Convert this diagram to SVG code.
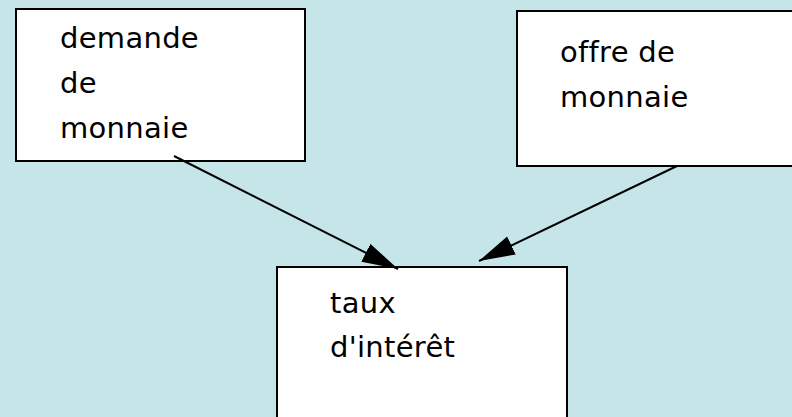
<svg xmlns="http://www.w3.org/2000/svg" width="792" height="417" viewBox="0 0 792 417">
<style>
.box{fill:#fff;stroke:#000;stroke-width:2}
.lbl{font-family:"DejaVu Sans","Liberation Sans",sans-serif;font-size:29px;letter-spacing:0.3px;fill:#000}
.edge{stroke:#000;stroke-width:2;fill:none}
</style>
<defs>
<marker id="ah" markerUnits="userSpaceOnUse" markerWidth="40" markerHeight="24" refX="36" refY="10" orient="auto" viewBox="0 0 40 24">
<path d="M0,0 L36,10 L0,20 z" fill="#000"/>
</marker>
</defs>
<rect width="792" height="417" fill="#c5e5e8"/>
<g id="demande">
<rect class="box" x="16" y="9" width="289" height="152"/>
<text class="lbl" x="60" y="48">demande</text>
<text class="lbl" x="60" y="93">de</text>
<text class="lbl" x="60" y="138">monnaie</text>
</g>
<g id="offre">
<rect class="box" x="517" y="11" width="290" height="155"/>
<text class="lbl" x="560" y="62">offre de</text>
<text class="lbl" x="560" y="107">monnaie</text>
</g>
<g id="taux">
<rect class="box" x="277" y="267" width="290" height="160"/>
<text class="lbl" x="330" y="313">taux</text>
<text class="lbl" x="330" y="357">d'intérêt</text>
</g>
<g id="connectors">
<line class="edge" x1="174" y1="156" x2="398" y2="269" marker-end="url(#ah)"/>
<line class="edge" x1="677" y1="166" x2="479" y2="261" marker-end="url(#ah)"/>
</g>
</svg>
